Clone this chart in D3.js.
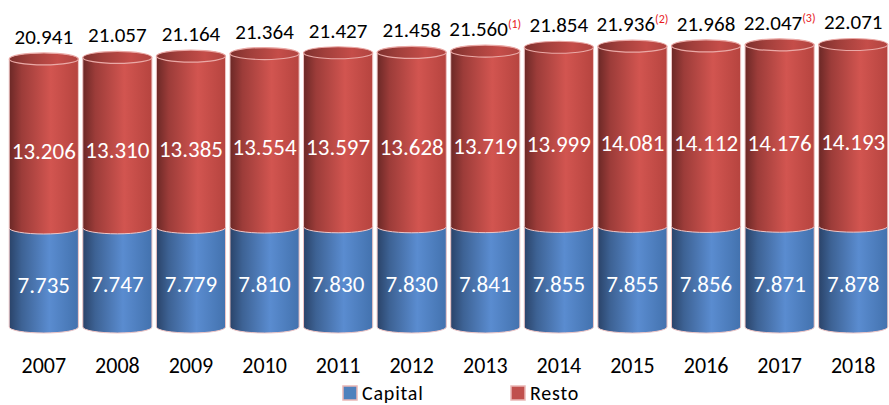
<!DOCTYPE html>
<html>
<head>
<meta charset="utf-8">
<script src="https://cdn.jsdelivr.net/npm/d3@7/dist/d3.min.js"></script>
<style>
  body { margin: 0; background: #fff; }
  svg { display: block; font-family: Carlito, "Open Sans", sans-serif; }
</style>
</head>
<body>
<svg width="889" height="405"></svg>
<script>
var years = ["2007", "2008", "2009", "2010", "2011", "2012", "2013", "2014", "2015", "2016", "2017", "2018"];
var capital = [7735, 7747, 7779, 7810, 7830, 7830, 7841, 7855, 7855, 7856, 7871, 7878];
var resto = [13206, 13310, 13385, 13554, 13597, 13628, 13719, 13999, 14081, 14112, 14176, 14193];
var notes = ["", "", "", "", "", "", "(1)", "", "(2)", "", "(3)", ""];
var seriesNames = ["Capital", "Resto"];

var svg = d3.select("svg");

var fmt = d3.formatLocale({ decimal: ",", thousands: ".", grouping: [3], currency: ["", "€"] }).format(",d");

var xScale = d3.scaleBand().domain(years).range([7, 890]).paddingInner(0.06).paddingOuter(0.03),
    yScale = d3.scaleLinear().domain([0, 25000]).range([327, 7]);

var ry = 6;

// gradients for the cylinder bodies
var defs = svg.append("defs");
function grad(id, stops) {
  var g = defs.append("linearGradient").attr("id", id).attr("x1", "0").attr("x2", "1").attr("y1", "0").attr("y2", "0");
  stops.forEach(function (s) {
    g.append("stop").attr("offset", s[0]).attr("stop-color", s[1]);
  });
}
grad("gBlue", [[0, "#2a4369"], [0.18, "#3d6294"], [0.58, "#5a8cd0"], [1, "#4372ae"]]);
grad("gRed", [[0, "#6b2826"], [0.18, "#9c3c39"], [0.6, "#d25550"], [1, "#b6443f"]]);
grad("gCap", [[0, "#7e302d"], [0.3, "#a13f3b"], [0.7, "#c54d49"], [1, "#b04541"]]);

var data = years.map(function (y, i) {
  return { year: y, capital: capital[i], resto: resto[i], total: capital[i] + resto[i], note: notes[i] };
});

// body shape from value v1 up to v2, rounded at the bottom
function body(d, v1, v2) {
  var x = xScale(d.year), w = xScale.bandwidth(), rx = w / 2;
  var yb = yScale(v1), yt = yScale(v2);
  return "M" + x + "," + yt + "L" + x + "," + yb +
    "A" + rx + "," + ry + " 0 0 0 " + (x + w) + "," + yb +
    "L" + (x + w) + "," + yt + "Z";
}

var g = svg.append("g");

var cyl = g.selectAll(".cyl").data(data).enter().append("g").attr("class", "cyl");

cyl.append("path")
  .attr("d", function (d) { return body(d, 0, d.capital); })
  .attr("fill", "url(#gBlue)")
  .attr("stroke", "#efc6c6")
  .attr("stroke-width", 1);

cyl.append("path")
  .attr("d", function (d) { return body(d, d.capital, d.total); })
  .attr("fill", "url(#gRed)")
  .attr("stroke", "#efc6c6")
  .attr("stroke-width", 1);

cyl.append("ellipse")
  .attr("cx", function (d) { return xScale(d.year) + xScale.bandwidth() / 2; })
  .attr("cy", function (d) { return yScale(d.total); })
  .attr("rx", xScale.bandwidth() / 2)
  .attr("ry", ry)
  .attr("fill", "url(#gCap)")
  .attr("stroke", "#eaa9a6")
  .attr("stroke-width", 1.2);

// segment labels
cyl.append("text")
  .attr("x", function (d) { return xScale(d.year) + xScale.bandwidth() / 2; })
  .attr("y", function (d) { return (yScale(0) + yScale(d.capital)) / 2 + 7; })
  .attr("dy", "0.35em")
  .attr("text-anchor", "middle")
  .attr("fill", "#fff")
  .attr("font-size", "23px")
  .text(function (d) { return fmt(d.capital); });

cyl.append("text")
  .attr("x", function (d) { return xScale(d.year) + xScale.bandwidth() / 2; })
  .attr("y", function (d) { return (yScale(d.capital) + yScale(d.total)) / 2 + 7; })
  .attr("dy", "0.35em")
  .attr("text-anchor", "middle")
  .attr("fill", "#fff")
  .attr("font-size", "23px")
  .text(function (d) { return fmt(d.resto); });

// totals with footnotes
var tot = cyl.append("text")
  .attr("x", function (d) { return xScale(d.year) + xScale.bandwidth() / 2; })
  .attr("y", function (d) { return yScale(d.total) - 15; })
  .attr("text-anchor", "middle")
  .attr("fill", "#000")
  .attr("font-size", "21px");
tot.append("tspan").text(function (d) { return fmt(d.total); });
tot.filter(function (d) { return d.note; })
  .append("tspan")
  .attr("dy", -8)
  .attr("font-size", "12px")
  .attr("fill", "#e8191d")
  .text(function (d) { return d.note; });

// x axis
var xAxis = svg.append("g")
  .attr("transform", "translate(0,373)")
  .call(d3.axisBottom(xScale).tickSize(0).tickPadding(0));
xAxis.select(".domain").remove();
xAxis.selectAll("text")
  .attr("dy", 0)
  .attr("font-size", "22px")
  .attr("font-family", "Carlito, 'Open Sans', sans-serif")
  .attr("fill", "#000");

// legend
var legend = svg.append("g").attr("class", "legend");
var legendX = [343, 511], legendFill = ["#4f81bd", "#c0504d"];
seriesNames.forEach(function (name, i) {
  legend.append("rect")
    .attr("x", legendX[i]).attr("y", 386)
    .attr("width", 14).attr("height", 14)
    .attr("fill", legendFill[i])
    .attr("stroke", "#eab7b5").attr("stroke-width", 1.5);
  legend.append("text")
    .attr("x", legendX[i] + 19).attr("y", 400)
    .attr("font-size", "20px")
    .attr("letter-spacing", "0.8px")
    .attr("fill", "#000")
    .text(name);
});
</script>
</body>
</html>
